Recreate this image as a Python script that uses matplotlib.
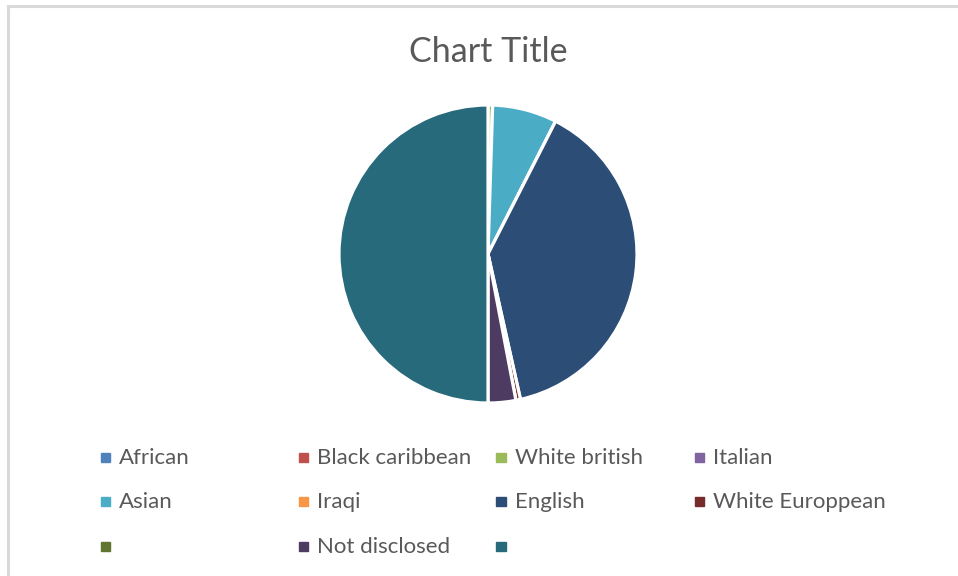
import matplotlib
matplotlib.use("Agg")
import matplotlib.pyplot as plt
from matplotlib.patches import Rectangle
from matplotlib.lines import Line2D

# ethnicity breakdown (last category has no label)
categorii = ["African", "Black caribbean", "White british", "Italian",
             "Asian", "Iraqi", "English", "White Europpean",
             "", "Not disclosed", ""]
valori = [0, 0, 1, 0, 14, 0, 78, 1, 0, 6, 100]
culori = ["#4F81BD", "#C0504D", "#9BBB59", "#8064A2",
          "#4BACC6", "#F79646", "#2C4D75", "#772C2A",
          "#5F7530", "#4D3B62", "#276A7C"]

plt.rcParams['font.family'] = ['Lato', 'DejaVu Sans']
gri = "#595959"

W, H = 958, 576
fig = plt.figure(figsize=(W / 100, H / 100), dpi=100)

# light chart border (top and left visible)
fig.add_artist(Line2D([7.5 / W, 7.5 / W], [0, 1 - 5.5 / H], color="#D9D9D9", lw=2.2))
fig.add_artist(Line2D([7.5 / W, 1], [1 - 5.5 / H, 1 - 5.5 / H], color="#D9D9D9", lw=2.2))

cx, cy, r = 488, 254, 149
ax = fig.add_axes([(cx - r) / W, (H - cy - r) / H, 2 * r / W, 2 * r / H])
ax.pie(valori, colors=culori, startangle=90, counterclock=False,
       wedgeprops=dict(edgecolor="white", linewidth=2.3))
ax.set_xlim(-1, 1)
ax.set_ylim(-1, 1)
ax.axis("off")

fig.text(cx / W, 1 - 52 / H, "Chart Title", ha="center", va="center",
         fontsize=24.5, color=gri)

# legend, row by row, 4 columns
col_x = [105, 303, 501, 699]
row_y = [457, 501, 546]
for i, (nume, c) in enumerate(zip(categorii, culori)):
    x = col_x[i % 4]
    y = row_y[i // 4]
    fig.add_artist(Rectangle(((x - 4.5) / W, 1 - (y + 4.5) / H), 9 / W, 9 / H,
                             color=c, transform=fig.transFigure))
    fig.text((x + 14) / W, 1 - (y + 1) / H, nume, ha="left", va="center",
             fontsize=16, color=gri)

fig.savefig("out.png", dpi=100)
